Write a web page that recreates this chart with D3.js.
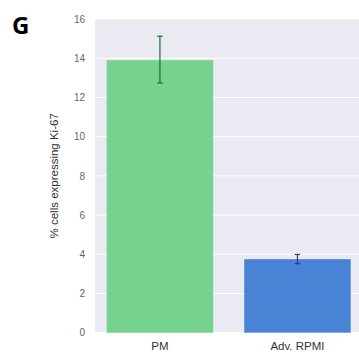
<!DOCTYPE html>
<html><head><meta charset="utf-8">
<script src="https://cdn.jsdelivr.net/npm/d3@7"></script>
<style>body{margin:0;background:#fff}svg{display:block}</style>
</head><body>
<script>
const categories = ["PM", "Adv. RPMI"];
const values = [13.9, 3.75];
const errLow = [12.74, 3.52];
const errHigh = [15.12, 3.99];
const barColors = ["#76d28f", "#4a83d6"];
const errColors = ["#1f6a31", "#263a8a"];
const yTicks = [0, 2, 4, 6, 8, 10, 12, 14, 16];

const W = 359, H = 356;
const m = {left: 95, top: 19, bottom: 23};
const plotRight = 362.4;
const svg = d3.select("body").append("svg").attr("width", W).attr("height", H);

const y = d3.scaleLinear().domain([0, 16]).range([H - m.bottom - 0.3, m.top]);
const x = d3.scaleBand().domain(categories).range([m.left, plotRight])
  .paddingInner(0.2255).paddingOuter(0.085);

svg.append("rect").attr("x", m.left).attr("y", m.top)
  .attr("width", plotRight - m.left).attr("height", y(0) - m.top).attr("fill", "#eaeaf2");

svg.append("g").selectAll("line").data(yTicks).join("line")
  .attr("x1", m.left).attr("x2", plotRight)
  .attr("y1", d => y(d)).attr("y2", d => y(d))
  .attr("stroke", "#fff").attr("stroke-width", 1);

const yAxis = svg.append("g").attr("transform", `translate(${m.left},0)`)
  .call(d3.axisLeft(y).tickValues(yTicks).tickSize(0).tickPadding(10));
yAxis.select(".domain").remove();
yAxis.selectAll("text").attr("fill", "#666").style("font-family", "Liberation Sans, Arial, sans-serif").style("font-size", "10px");

svg.append("g").selectAll("rect").data(categories).join("rect")
  .attr("x", d => x(d)).attr("width", x.bandwidth())
  .attr("y", (d, i) => y(values[i])).attr("height", (d, i) => y(0) - y(values[i]))
  .attr("fill", (d, i) => barColors[i]);

const eg = svg.append("g");
categories.forEach((c, i) => {
  const cx = x(c) + x.bandwidth() / 2;
  const col = errColors[i];
  eg.append("line").attr("x1", cx).attr("x2", cx).attr("y1", y(errLow[i])).attr("y2", y(errHigh[i])).attr("stroke", col).attr("stroke-width", 1.2);
  [errLow[i], errHigh[i]].forEach(v => eg.append("line").attr("x1", cx - 2.7).attr("x2", cx + 2.7).attr("y1", y(v)).attr("y2", y(v)).attr("stroke", col).attr("stroke-width", 1.2));
});

const xAxis = svg.append("g").attr("transform", `translate(0,${y(0)})`)
  .call(d3.axisBottom(x).tickSize(0).tickPadding(9));
xAxis.select(".domain").remove();
xAxis.selectAll("text").attr("fill", "#333").style("font-family", "Liberation Sans, Arial, sans-serif").style("font-size", "11.5px");

svg.append("text").attr("transform", `translate(58,${(y(0) + m.top) / 2}) rotate(-90)`)
  .attr("text-anchor", "middle").attr("fill", "#333")
  .style("font-family", "Liberation Sans, Arial, sans-serif").style("font-size", "11.5px")
  .text("% cells expressing Ki-67");

svg.append("text").attr("x", 12).attr("y", 34).attr("fill", "#000")
  .style("font-family", "Open Sans, sans-serif").style("font-weight", "bold").style("font-size", "24px")
  .text("G");
</script>
</body></html>
